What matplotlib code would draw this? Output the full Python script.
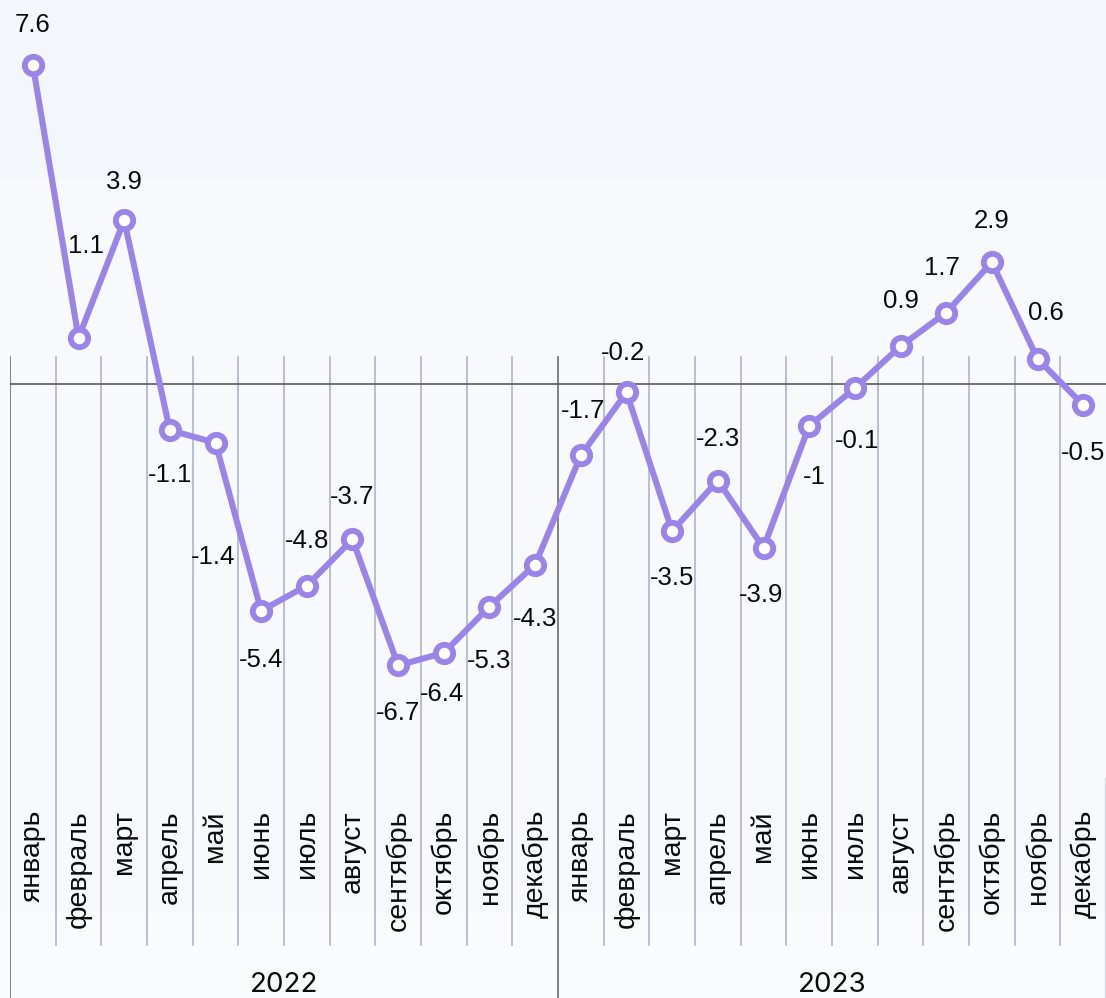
import matplotlib
matplotlib.use("Agg")
import matplotlib.pyplot as plt
import matplotlib.transforms as mtransforms
from matplotlib.patches import Rectangle

# data
months = ["январь", "февраль", "март", "апрель", "май", "июнь", "июль",
          "август", "сентябрь", "октябрь", "ноябрь", "декабрь"]
years = ["2022", "2023"]
values = [7.6, 1.1, 3.9, -1.1, -1.4, -5.4, -4.8, -3.7, -6.7, -6.4, -5.3, -4.3,
          -1.7, -0.2, -3.5, -2.3, -3.9, -1, -0.1, 0.9, 1.7, 2.9, 0.6, -0.5]
value_labels = ["7.6", "1.1", "3.9", "-1.1", "-1.4", "-5.4", "-4.8", "-3.7",
                "-6.7", "-6.4", "-5.3", "-4.3", "-1.7", "-0.2", "-3.5", "-2.3",
                "-3.9", "-1", "-0.1", "0.9", "1.7", "2.9", "0.6", "-0.5"]

# label offsets in pixels (dx, dy up)
label_offsets = [(0, 40), (7, 92), (0, 38), (0, -45), (-2, -114), (0, -49),
                 (0, 45), (0, 42), (0, -48), (-2, -41), (0, -54), (0, -54),
                 (2, 44), (-3, 39), (0, -47), (0, 42), (-2, -47), (5, -51),
                 (2, -53), (0, 45), (-4, 45), (0, 41), (8, 46), (0, -48)]

LINE = "#9b84e8"
GRID = "#a9aec8"
FONT = ["Liberation Sans", "DejaVu Sans"]

W, H = 1106, 998
fig = plt.figure(figsize=(W / 100, H / 100), dpi=100)
fig.patch.set_facecolor("#f7f9fc")
# faint background bands
fig.patches.append(Rectangle((0, 1 - 178 / H), 1, 178 / H, transform=fig.transFigure,
                             color="#f3f6fa", zorder=-10))
fig.patches.append(Rectangle((0, 0), 1, 1 - 913 / H, transform=fig.transFigure,
                             color="#fafbfd", zorder=-10))

left = 10 / W
ax = fig.add_axes([left, 0, 1 - left, 1])
ax.set_facecolor("none")
ax.axis("off")

n = len(values)
zero_px = 384
px_per_unit = 42
ax.set_xlim(-0.5, n - 0.5)
ax.set_ylim((zero_px - H) / px_per_unit, zero_px / px_per_unit)

top_grid = 1 - 357 / H
bottom_grid = 1 - 945 / H

# month separators
for k in range(1, n):
    if k % 12 == 0:
        continue
    ax.axvline(k - 0.5, ymin=bottom_grid, ymax=top_grid, color=GRID, lw=1.1, zorder=1)
# year separators
for k in (0, 12):
    ax.axvline(k - 0.5, ymin=0, ymax=top_grid, color="#6b6b6b", lw=1.2, zorder=1)
ax.axvline(n - 0.52, ymin=0, ymax=0.22, color="#d6d8e2", lw=1.0, zorder=1)

ax.axhline(0, color="#5a5a5a", lw=1.2, zorder=2)

xs = list(range(n))
ax.plot(xs, values, color=LINE, lw=4.4, marker="o", ms=12.5, mfc="white",
        mec=LINE, mew=4.2, zorder=3, solid_joinstyle="round")

for x, v, lab, (dx, dy) in zip(xs, values, value_labels, label_offsets):
    ax.annotate(lab, (x, v), xytext=(dx, dy), textcoords="offset pixels",
                ha="center", va="center", fontsize=18.5, family=FONT,
                color="#0a0a0a", zorder=4)

trans = mtransforms.blended_transform_factory(ax.transData, ax.transAxes)
for i in range(n):
    ax.text(i, 1 - 810 / H, months[i % 12], rotation=90, ha="center", va="top",
            fontsize=20.5, family=FONT, color="#0a0a0a", transform=trans)

for j, yr in enumerate(years):
    ax.text(j * 12 + 5.5, 1 - 985 / H, yr, ha="center", va="center",
            fontsize=20, family=["Inter", "DejaVu Sans"], color="#0a0a0a",
            transform=trans)

fig.savefig("out.png", dpi=100, facecolor=fig.get_facecolor())
